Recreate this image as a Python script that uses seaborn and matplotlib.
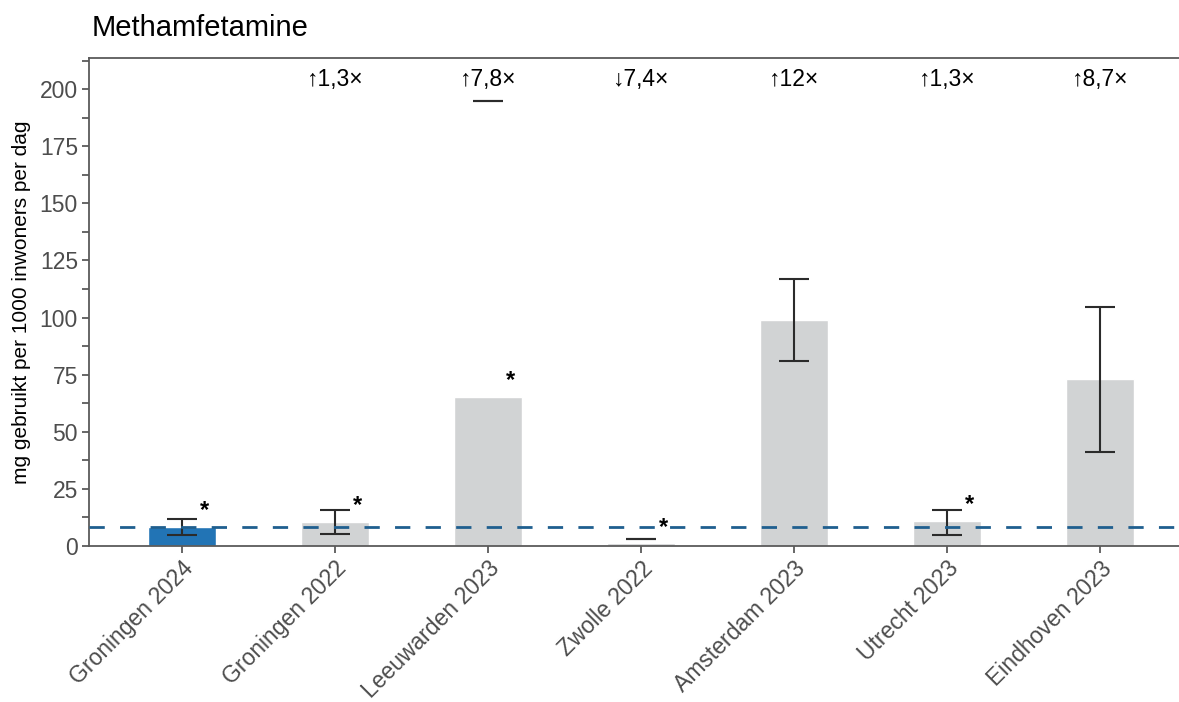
import matplotlib
matplotlib.use("Agg")
import matplotlib.pyplot as plt
from matplotlib.ticker import MultipleLocator
import seaborn as sns
import pandas as pd

# Methamphetamine load per city (mg per 1000 inhabitants per day)
cities = ["Groningen 2024", "Groningen 2022", "Leeuwarden 2023", "Zwolle 2022",
          "Amsterdam 2023", "Utrecht 2023", "Eindhoven 2023"]
values = [8.4, 10.6, 65.3, 1.13, 99.0, 10.9, 73.0]
err_low = [4.8, 5.3, 194.7, 3.0, 81.0, 4.8, 41.1]
err_high = [11.6, 15.8, 194.7, 3.0, 116.9, 15.8, 104.6]
significant = [True, True, True, True, False, True, False]
reference_value = values[0]

sns.set_theme(style="white")
plt.rcParams["font.family"] = ["Liberation Sans", "DejaVu Sans"]

df = pd.DataFrame({"city": cities, "value": values})
colors = ["#2274b5"] + ["#d1d3d4"] * (len(cities) - 1)

fig = plt.figure(figsize=(11.79, 7.02), dpi=100)
ax = fig.add_axes([89 / 1179, 156 / 702, 1104 / 1179, 488 / 702])

sns.barplot(data=df, x="city", y="value", hue="city", palette=colors,
            legend=False, width=0.45, errorbar=None, ax=ax, saturation=1)

# interval bars drawn around their own midpoints
xs = list(range(len(cities)))
mids = [(lo + hi) / 2 for lo, hi in zip(err_low, err_high)]
half = [(hi - lo) / 2 for lo, hi in zip(err_low, err_high)]
ax.errorbar(xs, mids, yerr=half, fmt="none", ecolor="#2b2b2b",
            elinewidth=1.5, capsize=11, capthick=1.5, zorder=4)

ax.axhline(reference_value, color="#1f5f8f", lw=2, ls=(0, (5.5, 5.5)), zorder=5)

for x, v, sig in zip(xs, values, significant):
    if sig:
        ax.text(x + 0.15, v + 4.3, "*", ha="center", va="baseline",
                fontsize=17, color="black", fontweight="bold", zorder=6)

for x, v in zip(xs[1:], values[1:]):
    ratio = v / reference_value
    arrow = "↑" if ratio >= 1 else "↓"
    r = ratio if ratio >= 1 else 1 / ratio
    txt = f"{arrow}{r:.2g}".replace(".", ",") + "×"
    ax.text(x, 201.5, txt, ha="center", va="baseline", fontsize=16.5, color="black")

ax.set_xlim(-0.608, 6.608)
ax.set_ylim(0, 213.6)
ax.yaxis.set_major_locator(MultipleLocator(25))
ax.yaxis.set_minor_locator(MultipleLocator(12.5))
ax.set_xlabel("")
ax.set_ylabel("mg gebruikt per 1000 inwoners per dag", fontsize=15, color="black", labelpad=6)
ax.set_title("Methamfetamine", loc="left", fontsize=21, pad=16, color="black", x=0.002)

for side in ["left", "bottom", "top"]:
    ax.spines[side].set_color("#5a5a5a")
    ax.spines[side].set_linewidth(1.3)
ax.spines["right"].set_visible(False)

ax.tick_params(axis="both", which="both", direction="out", color="#5a5a5a",
               labelcolor="#4d4d4d", labelsize=16.5, width=1.3)
ax.tick_params(axis="y", which="major", length=5, left=True, pad=3)
ax.tick_params(axis="y", which="minor", length=5, left=True)
ax.tick_params(axis="x", which="major", length=5, bottom=True, pad=3)
ax.set_xticks(xs)
ax.set_xticklabels(cities, rotation=45, ha="right", rotation_mode="anchor")

fig.savefig("out.png", dpi=100)
